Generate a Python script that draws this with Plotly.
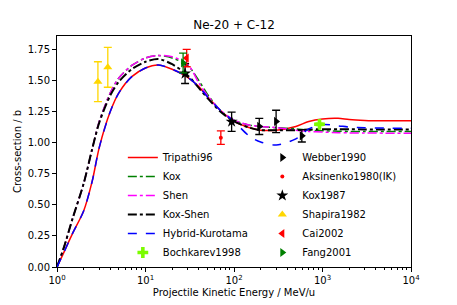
import plotly.graph_objects as go

# ---- model curves (energy in MeV/u, cross-section in b) ----
E_curve = [1, 1.2, 1.5, 2, 2.5, 3, 4, 5, 7, 10, 14, 20, 30, 40, 50, 70, 100,
           150, 200, 300, 500, 700, 1000, 1500, 2000, 3000, 5000, 10000]
tripathi96 = [0.0, 0.12, 0.27, 0.45, 0.69, 0.96, 1.25, 1.40, 1.53, 1.60, 1.624, 1.59,
              1.525, 1.45, 1.37, 1.26, 1.17, 1.12, 1.10, 1.10, 1.13, 1.17, 1.19,
              1.195, 1.185, 1.178, 1.175, 1.175]
kox = [0.0, 0.16, 0.39, 0.67, 0.95, 1.17, 1.40, 1.52, 1.62, 1.68, 1.70, 1.68,
       1.62, 1.50, 1.39, 1.26, 1.18, 1.14, 1.13, 1.12, 1.11, 1.10, 1.095,
       1.092, 1.09, 1.09, 1.09, 1.09]
shen = [0.0, 0.16, 0.39, 0.67, 0.95, 1.17, 1.40, 1.52, 1.62, 1.68, 1.70, 1.69,
        1.63, 1.48, 1.38, 1.26, 1.18, 1.14, 1.13, 1.12, 1.10, 1.09, 1.085,
        1.08, 1.078, 1.077, 1.076, 1.075]
kox_shen = [0.0, 0.16, 0.39, 0.67, 0.95, 1.16, 1.38, 1.49, 1.59, 1.65, 1.672, 1.63,
            1.54, 1.44, 1.36, 1.25, 1.17, 1.12, 1.10, 1.10, 1.10, 1.105, 1.108,
            1.108, 1.107, 1.106, 1.105, 1.105]
hybrid_kurotama = [0.0, 0.12, 0.27, 0.45, 0.69, 0.96, 1.25, 1.40, 1.53, 1.60, 1.624, 1.59,
                   1.525, 1.45, 1.37, 1.26, 1.17, 1.05, 1.005, 0.98, 1.03, 1.11, 1.145,
                   1.135, 1.125, 1.12, 1.117, 1.115]

# ---- measurements ----
webber1990_E = [193, 299, 584]
webber1990_v = [1.13, 1.17, 1.055]
webber1990_err = [0.065, 0.09, 0.05]

aksinenko1980_E = [71]
aksinenko1980_v = [1.04]
aksinenko1980_err = [0.055]

kox1987_E = [28, 94]
kox1987_v = [1.555, 1.168]
kox1987_err = [0.08, 0.077]

shapira1982_E = [2.9, 3.75]
shapira1982_v = [1.49, 1.605]
shapira1982_err = [0.16, 0.16]

cai2002_E = [29.2]
cai2002_v = [1.68]
cai2002_err = [0.07]

fang2001_E = [26.6]
fang2001_v = [1.64]
fang2001_err = [0.08]

bochkarev1998_E = [925]
bochkarev1998_v = [1.147]
bochkarev1998_err = [0.01]

x_tickvals = [1, 10, 100, 1000, 10000]
x_ticktext = ["10<sup>0</sup>", "10<sup>1</sup>", "10<sup>2</sup>", "10<sup>3</sup>", "10<sup>4</sup>"]
y_tickvals = [0, 0.25, 0.5, 0.75, 1.0, 1.25, 1.5, 1.75]

fig = go.Figure()

def line(name, y, color, dash, width=1.5):
    fig.add_trace(go.Scatter(x=E_curve, y=y, mode="lines", name=name,
                             line=dict(color=color, dash=dash, width=width, shape="spline", smoothing=0.8),
                             legend="legend"))

line("Tripathi96", tripathi96, "red", "solid")
line("Kox", kox, "green", "dashdot")
line("Shen", shen, "magenta", "dashdot")
line("Kox-Shen", kox_shen, "black", "dashdot", 2)
line("Hybrid-Kurotama", hybrid_kurotama, "blue", "dash")

def pts(name, E, v, err, color, symbol, size, leg, ecolor=None):
    fig.add_trace(go.Scatter(x=E, y=v, mode="markers", name=name,
                             marker=dict(color=color, symbol=symbol, size=size),
                             error_y=dict(type="data", array=err, color=ecolor or color,
                                          thickness=1.3, width=4),
                             legend=leg))

pts("Bochkarev1998", bochkarev1998_E, bochkarev1998_v, bochkarev1998_err, "lawngreen", "cross", 9, "legend")
pts("Webber1990", webber1990_E, webber1990_v, webber1990_err, "black", "triangle-right", 8, "legend2")
pts("Aksinenko1980(IK)", aksinenko1980_E, aksinenko1980_v, aksinenko1980_err, "red", "circle", 4, "legend2")
pts("Kox1987", kox1987_E, kox1987_v, kox1987_err, "black", "star", 9, "legend2")
pts("Shapira1982", shapira1982_E, shapira1982_v, shapira1982_err, "gold", "triangle-up", 8, "legend2")
pts("Cai2002", cai2002_E, cai2002_v, cai2002_err, "red", "triangle-left", 8, "legend2")
pts("Fang2001", fang2001_E, fang2001_v, fang2001_err, "green", "triangle-right", 8, "legend2")

font = "DejaVu Sans"
fig.update_layout(
    width=457, height=305,
    margin=dict(l=57, r=46, t=36, b=38, autoexpand=False),
    paper_bgcolor="white", plot_bgcolor="white",
    font=dict(family=font, size=10, color="black"),
    title=dict(text="Ne-20 + C-12", x=(57 + 411) / 2 / 457, xanchor="center",
               y=1 - 25 / 305, yanchor="middle", font=dict(size=12)),
    showlegend=True,
    legend=dict(x=0.186, y=0.0, xanchor="left", yanchor="bottom",
                bgcolor="rgba(0,0,0,0)", font=dict(size=10), tracegroupgap=0),
    legend2=dict(x=0.58, y=0.0, xanchor="left", yanchor="bottom",
                 bgcolor="rgba(0,0,0,0)", font=dict(size=10), tracegroupgap=0),
    xaxis=dict(type="log", range=[0, 4], tickmode="array", tickvals=x_tickvals, ticktext=x_ticktext,
               automargin=False,
               showline=True, linecolor="black", linewidth=1, mirror=True,
               ticks="outside", ticklen=4, tickcolor="black", showgrid=False, zeroline=False,
               minor=dict(ticks="outside", ticklen=2, tickcolor="black", dtick="D1", showgrid=False),
               title=dict(text="Projectile Kinetic Energy / MeV/u", standoff=3, font=dict(size=10))),
    yaxis=dict(range=[0, 1.857], tickmode="array", tickvals=y_tickvals, tickformat=".2f",
               automargin=False,
               showline=True, linecolor="black", linewidth=1, mirror=True,
               ticks="outside", ticklen=4, tickcolor="black", showgrid=False, zeroline=False,
               title=dict(text="Cross-section / b", standoff=4, font=dict(size=10))),
)

fig.write_html("out.html",
               config={"displayModeBar": False},
               post_script="document.body.style.margin='0';document.body.style.overflow='hidden';")
